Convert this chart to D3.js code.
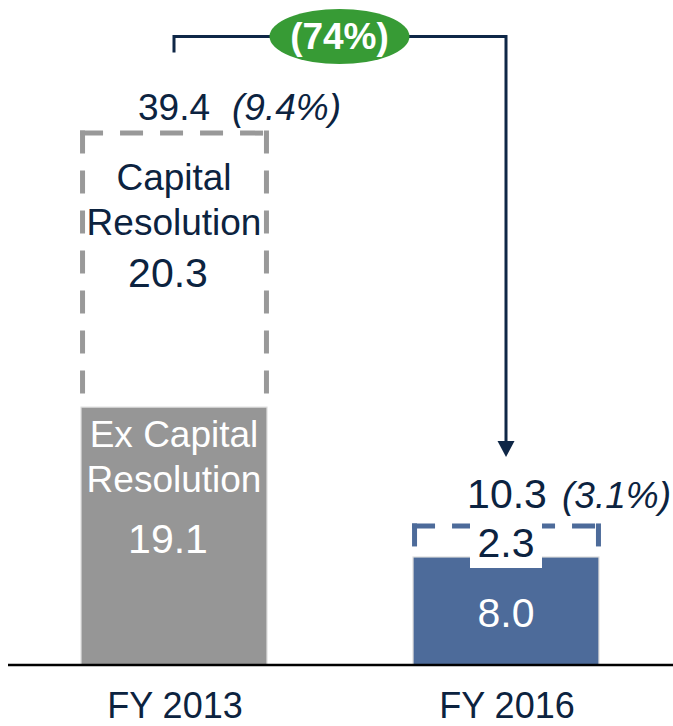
<!DOCTYPE html>
<html>
<head>
<meta charset="utf-8">
<script src="https://cdn.jsdelivr.net/npm/d3@7/dist/d3.min.js"></script>
<style>
  html, body { margin: 0; padding: 0; background: #fff; }
  svg { display: block; font-family: "Liberation Sans", Arial, sans-serif; }
</style>
</head>
<body>
<svg id="chart" width="673" height="726"></svg>
<script>
// Fiscal years shown
const categories = ["FY 2013", "FY 2016"];
// Solid (base) segment values
const baseValues = [19.1, 8.0];
// Dashed (capital resolution) segment values
const capitalValues = [20.3, 2.3];
// Totals and their percentages
const totals = [39.4, 10.3];
const totalPcts = ["(9.4%)", "(3.1%)"];
// Segment captions
const baseCaptions = [["Ex Capital", "Resolution"], []];
const capitalCaptions = [["Capital", "Resolution"], []];
// Change between years
const changeLabel = "(74%)";

const navy = "#0c2340";
const fills = ["#969696", "#4d6b9a"];
const dashStrokes = ["#999999", "#4d6b9a"];

const svg = d3.select("#chart");

const x = d3.scaleBand()
  .domain(categories)
  .range([8, 672])
  .paddingInner(0.44)
  .paddingOuter(0.22);

const baseY = 665;
const y = d3.scaleLinear().domain([0, 45]).range([baseY, baseY - 45 * 13.5]);

const data = categories.map((c, i) => ({
  cat: c, i,
  base: baseValues[i],
  cap: capitalValues[i],
  total: totals[i],
  pct: totalPcts[i]
}));

// Dashed outlines (left, top, right drawn separately so each starts with a dash at the corner)
data.forEach(d => {
  const x0 = x(d.cat) + 1.5, x1 = x(d.cat) + x.bandwidth() - 0.5;
  const yt = y(d.base + d.cap), yb = y(d.base);
  const g = svg.append("g")
    .attr("fill", "none")
    .attr("stroke", dashStrokes[d.i])
    .attr("stroke-width", 5)
    .attr("stroke-dasharray", "23,17");
  g.append("path").attr("d", `M${x0},${yt - 2.5}L${x0},${yb}`);
  g.append("path").attr("d", `M${x0 - 2.5},${yt}L${x1 + 2.5},${yt}`);
  g.append("path").attr("d", `M${x1},${yt - 2.5}L${x1},${yb}`);
});

// Solid base bars
svg.append("g").selectAll("rect")
  .data(data)
  .join("rect")
  .attr("x", d => x(d.cat))
  .attr("y", d => y(d.base))
  .attr("width", x.bandwidth())
  .attr("height", d => y(0) - y(d.base))
  .attr("fill", d => fills[d.i])
  .attr("stroke", "#dcdcdc")
  .attr("stroke-width", 1.2);

// Baseline
svg.append("line")
  .attr("x1", 8).attr("x2", 673)
  .attr("y1", y(0)).attr("y2", y(0))
  .attr("stroke", "#000").attr("stroke-width", 2.5);

const fs = 37;   // captions
const fsNum = 41; // segment values

// Captions and values inside the FY 2013 bar
const d0 = data[0];
const cx0 = x(d0.cat) + x.bandwidth() / 2;
const capTop = y(d0.base + d0.cap);
capitalCaptions[0].forEach((t, k) => {
  svg.append("text").attr("x", cx0).attr("y", capTop + 57 + k * 45)
    .attr("text-anchor", "middle").attr("font-size", fs).attr("fill", navy).text(t);
});
svg.append("text").attr("x", cx0 - 6).attr("y", capTop + 154)
  .attr("text-anchor", "middle").attr("font-size", fsNum).attr("fill", navy).text(d0.cap.toFixed(1));

const baseTop = y(d0.base);
baseCaptions[0].forEach((t, k) => {
  svg.append("text").attr("x", cx0).attr("y", baseTop + 40 + k * 45)
    .attr("text-anchor", "middle").attr("font-size", fs).attr("fill", "#fff").text(t);
});
svg.append("text").attr("x", cx0 - 6).attr("y", baseTop + 146)
  .attr("text-anchor", "middle").attr("font-size", fsNum).attr("fill", "#fff").text(d0.base.toFixed(1));

// FY 2016 bar values
const d1 = data[1];
const cx1 = x(d1.cat) + x.bandwidth() / 2;
svg.append("text").attr("x", cx1).attr("y", y(d1.base) + 70)
  .attr("text-anchor", "middle").attr("font-size", fsNum).attr("fill", "#fff").text(d1.base.toFixed(1));
// White label patch over the thin dashed segment
svg.append("rect")
  .attr("x", cx1 - 36).attr("y", y(d1.base + d1.cap) - 5)
  .attr("width", 72).attr("height", y(d1.base) - y(d1.base + d1.cap) + 16)
  .attr("fill", "#fff");
svg.append("text").attr("x", cx1).attr("y", y(d1.base))
  .attr("text-anchor", "middle").attr("font-size", fsNum).attr("fill", navy).text(d1.cap.toFixed(1));

// Totals above each bar
data.forEach(d => {
  const cx = x(d.cat) + x.bandwidth() / 2;
  const ty = y(d.total) - (d.i === 0 ? 13 : 18);
  svg.append("text").attr("x", cx + (d.i === 0 ? 0 : 1)).attr("y", ty)
    .attr("text-anchor", "middle").attr("font-size", d.i === 0 ? fs : fsNum)
    .attr("fill", navy).text(d.total.toFixed(1));
  svg.append("text").attr("x", cx + (d.i === 0 ? 58 : 56)).attr("y", ty)
    .attr("text-anchor", "start").attr("font-size", fs).attr("font-style", "italic")
    .attr("fill", navy).text(d.pct);
});

// Category labels
svg.append("g").selectAll("text")
  .data(categories)
  .join("text")
  .attr("x", c => x(c) + x.bandwidth() / 2 + 1)
  .attr("y", 718)
  .attr("text-anchor", "middle")
  .attr("font-size", 36)
  .attr("fill", navy)
  .text(c => c);

// Change bracket with arrow into FY 2016
const bracketY = 36.5;
const arrowTip = y(d1.total) - 69;
svg.append("path")
  .attr("d", `M${cx0},${bracketY + 16}L${cx0},${bracketY}L${cx1},${bracketY}L${cx1},${arrowTip - 12}`)
  .attr("fill", "none").attr("stroke", "#0f2747").attr("stroke-width", 3);
svg.append("path")
  .attr("d", `M${cx1 - 8.5},${arrowTip - 16}L${cx1 + 8.5},${arrowTip - 16}L${cx1},${arrowTip}Z`)
  .attr("fill", "#0f2747");

const ex = (cx0 + cx1) / 2 - 0.5;
svg.append("ellipse")
  .attr("cx", ex).attr("cy", bracketY)
  .attr("rx", 70).attr("ry", 27.5)
  .attr("fill", "#379b35");
svg.append("text")
  .attr("x", ex).attr("y", bracketY + 12)
  .attr("text-anchor", "middle").attr("font-size", fs).attr("font-weight", "bold")
  .attr("fill", "#fff").text(changeLabel);
</script>
</body>
</html>
